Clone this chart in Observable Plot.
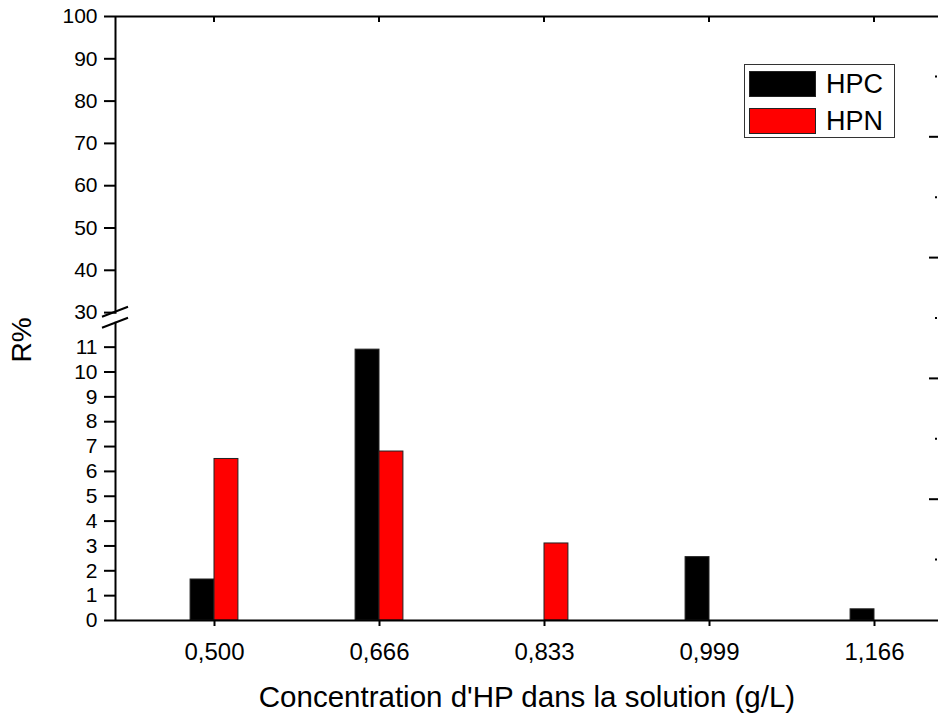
<!DOCTYPE html>
<html><head><meta charset="utf-8">
<script src="https://cdn.jsdelivr.net/npm/d3@7"></script>
<script src="https://cdn.jsdelivr.net/npm/@observablehq/plot@0.6"></script>
<style>
html,body{margin:0;padding:0;overflow:hidden;background:#fff;width:938px;height:716px}
#wrap{position:relative;width:938px;height:716px;overflow:hidden;font-family:"Liberation Sans",Arial,sans-serif;color:#000}
#chart{position:absolute;left:0;top:0;width:938px;height:716px;overflow:hidden}
.title{position:absolute;white-space:nowrap;font-size:28px;line-height:1}
#xt{left:27px;width:1000px;top:682px;text-align:center;font-size:29.5px}
#yt{left:22px;top:340px;transform:translate(-50%,-50%) rotate(-90deg)}
#legend{position:absolute;left:744px;top:64px;width:149px;height:72px;border:1px solid #333;background:#fff}
.li{position:absolute;left:4px;height:26px;display:flex;align-items:center}
.sw{width:65px;height:24px;border:1px solid #222;margin-right:10px}
.lt{font-size:27px;line-height:1}
</style></head><body><div id="wrap"><div id="chart"></div>
<div class="title" id="xt">Concentration d'HP dans la solution (g/L)</div>
<div class="title" id="yt">R%</div>
<div id="legend"></div>
</div>
<script>
const categories = ["0,500", "0,666", "0,833", "0,999", "1,166"];
const seriesNames = ["HPC", "HPN"];
const hpc = [1.65, 10.9, 0, 2.55, 0.45];
const hpn = [6.5, 6.8, 3.1, 0, 0];
const seriesColors = ["#000000", "#ff0000"];
const yTicksLow = [0, 1, 2, 3, 4, 5, 6, 7, 8, 9, 10, 11];
const yTicksHigh = [30, 40, 50, 60, 70, 80, 90, 100];
const rightTicks = [1, 2, 3, 4, 5, 6, 7, 8, 9];

const barW = 0.145;
const bars = [];
categories.forEach((c, i) => {
  if (hpc[i] > 0) bars.push({i, s: "HPC", v: hpc[i], x1: i - barW, x2: i});
  if (hpn[i] > 0) bars.push({i, s: "HPN", v: hpn[i], x1: i, x2: i + barW});
});

const xLo = -0.6, xHi = 4.4;
const breakLo = 12, breakHi = 29.6;

function decorations(index, scales, values, dims) {
  const g = d3.create("svg:g").attr("stroke", "#000").attr("stroke-width", 2).attr("fill", "none");
  const x0 = scales.x(xLo), xr = scales.x(xHi);
  for (const yv of [breakHi, breakLo]) {
    const y = scales.y(yv) + (yv === breakHi ? -2 : 1);
    g.append("line").attr("x1", x0 - 13).attr("y1", y + 5).attr("x2", x0 + 13).attr("y2", y - 5);
  }
  const yTop = scales.y(100);
  categories.forEach((c, i) => {
    g.append("line").attr("x1", scales.x(i)).attr("x2", scales.x(i)).attr("y1", yTop).attr("y2", yTop + 6);
  });
  const r = d3.scaleLinear([0, 10], [scales.y(0), scales.y(100)]);
  for (const t of rightTicks) {
    const y = r(t);
    const major = t % 2 === 0;
    g.append("line").attr("x1", major ? xr - 11 : xr - 5).attr("x2", major ? xr : xr - 3).attr("y1", y).attr("y2", y);
  }
  return g.node();
}

const chart = Plot.plot({
  width: 938,
  height: 716,
  marginLeft: 115,
  marginRight: 0,
  marginTop: 16,
  marginBottom: 96,
  style: {fontFamily: "'Liberation Sans', Arial, sans-serif", color: "#000", background: "#fff"},
  x: {type: "linear", domain: [xLo, xHi], range: [115, 940], axis: null},
  y: {type: "linear", domain: [0, breakLo, breakHi, 100], range: [620, 620 - breakLo * 24.85, 16 + (100 - breakHi) * 4.23, 16], axis: null},
  marks: [
    Plot.rectY(bars, {
      x1: "x1", x2: "x2", y1: 0, y2: "v",
      fill: d => seriesColors[seriesNames.indexOf(d.s)],
      stroke: "#222", strokeWidth: 1
    }),
    Plot.ruleX([xLo], {y1: 0, y2: breakLo, stroke: "#000", strokeWidth: 2}),
    Plot.ruleX([xLo], {y1: breakHi, y2: 100, stroke: "#000", strokeWidth: 2}),
    Plot.ruleX([xHi], {y1: 0, y2: 100, stroke: "#000", strokeWidth: 2}),
    Plot.ruleY([0], {x1: xLo, x2: xHi, stroke: "#000", strokeWidth: 2}),
    Plot.ruleY([100], {x1: xLo, x2: xHi, stroke: "#000", strokeWidth: 2}),
    Plot.axisY([...yTicksLow, ...yTicksHigh], {
      anchor: "left", tickSize: 11, tickPadding: 7, fontSize: 21, strokeWidth: 2,
      label: null, tickFormat: d => String(d)
    }),
    Plot.axisX(categories.map((c, i) => i), {
      anchor: "bottom", tickSize: 6, tickPadding: 16, fontSize: 24, strokeWidth: 2,
      label: null, tickFormat: i => categories[i]
    }),
    decorations
  ]
});
document.getElementById("chart").appendChild(chart);

const legend = document.getElementById("legend");
seriesNames.forEach((s, k) => {
  const row = document.createElement("div");
  row.className = "li";
  row.style.top = (k === 0 ? 6 : 43) + "px";
  row.innerHTML = `<div class="sw" style="background:${seriesColors[k]}"></div><span class="lt">${s}</span>`;
  legend.appendChild(row);
});
</script>
</body></html>
